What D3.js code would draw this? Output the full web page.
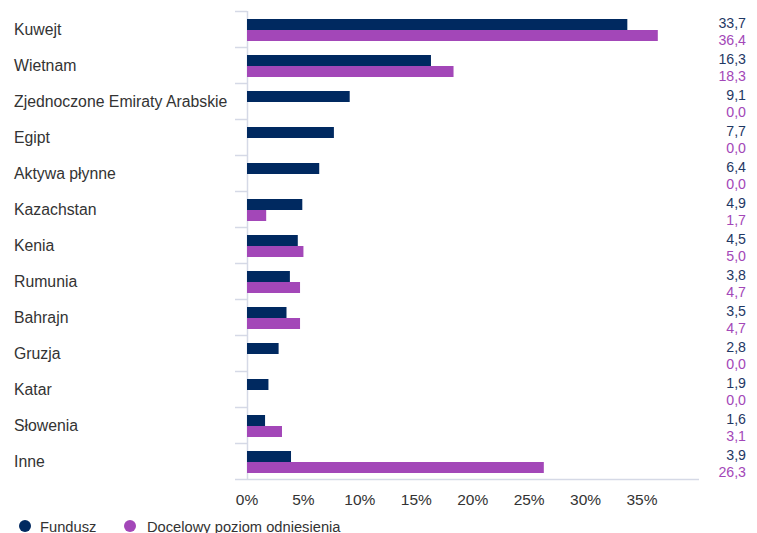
<!DOCTYPE html>
<html>
<head>
<meta charset="utf-8">
<script src="https://cdn.jsdelivr.net/npm/d3@7"></script>
<style>
  body { margin: 0; background: #fff; }
  svg { font-family: Arial, "Liberation Sans", sans-serif; }
</style>
</head>
<body>
<svg width="757" height="533"></svg>
<script>
const categories = ['Kuwejt', 'Wietnam', 'Zjednoczone Emiraty Arabskie', 'Egipt', 'Aktywa płynne',
  'Kazachstan', 'Kenia', 'Rumunia', 'Bahrajn', 'Gruzja', 'Katar', 'Słowenia', 'Inne'];
const fundusz = [33.7, 16.3, 9.1, 7.7, 6.4, 4.9, 4.5, 3.8, 3.5, 2.8, 1.9, 1.6, 3.9];
const benchmark = [36.4, 18.3, 0.0, 0.0, 0.0, 1.7, 5.0, 4.7, 4.7, 0.0, 0.0, 3.1, 26.3];
const xTicks = [0, 5, 10, 15, 20, 25, 30, 35];
const seriesNames = ['Fundusz', 'Docelowy poziom odniesienia'];

const navy = '#002960', purple = '#a347b8';
const svg = d3.select('svg');

const x = d3.scaleLinear().domain([0, 35]).range([247, 642]);
const y = d3.scaleBand().domain(categories).range([11, 479]);
const barH = 11;

// axis lines
const axisColor = '#d5d9e6';
svg.append('line').attr('x1', 247.5).attr('x2', 247.5).attr('y1', 11).attr('y2', 479)
  .attr('stroke', axisColor).attr('stroke-width', 1.5);
svg.append('line').attr('x1', 235).attr('x2', 699).attr('y1', 479.5).attr('y2', 479.5)
  .attr('stroke', axisColor).attr('stroke-width', 1.5);
svg.append('g').selectAll('line')
  .data(categories).enter().append('line')
  .attr('x1', 235).attr('x2', 247)
  .attr('y1', d => y(d) + 0.5).attr('y2', d => y(d) + 0.5)
  .attr('stroke', axisColor).attr('stroke-width', 1.5);

const rows = svg.append('g').selectAll('g')
  .data(categories).enter().append('g')
  .attr('transform', d => `translate(0,${y(d)})`);

rows.append('rect')
  .attr('x', x(0)).attr('y', 8).attr('height', barH)
  .attr('width', (d, i) => x(fundusz[i]) - x(0))
  .attr('fill', navy);
rows.append('rect')
  .attr('x', x(0)).attr('y', 8 + barH).attr('height', barH)
  .attr('width', (d, i) => x(benchmark[i]) - x(0))
  .attr('fill', purple);

rows.append('text')
  .attr('x', 14).attr('y', y.bandwidth() / 2 + 6)
  .attr('font-size', 15.8).attr('fill', '#333')
  .text(d => d);

const fmt = v => v.toFixed(1).replace('.', ',');
rows.append('text')
  .attr('x', 746).attr('y', 16.5).attr('text-anchor', 'end')
  .attr('font-size', 14.2).attr('fill', '#1f3864')
  .text((d, i) => fmt(fundusz[i]));
rows.append('text')
  .attr('x', 746).attr('y', 33.5).attr('text-anchor', 'end')
  .attr('font-size', 14.2).attr('fill', purple)
  .text((d, i) => fmt(benchmark[i]));

// x tick labels
svg.append('g').selectAll('text')
  .data(xTicks).enter().append('text')
  .attr('x', d => x(d)).attr('y', 505)
  .attr('text-anchor', 'middle').attr('font-size', 15.5).attr('fill', '#333')
  .text(d => d + '%');

// legend
const legend = svg.append('g').selectAll('g')
  .data(seriesNames).enter().append('g')
  .attr('transform', (d, i) => `translate(${i === 0 ? 25 : 130},526)`);
legend.append('circle').attr('r', 6).attr('fill', (d, i) => i === 0 ? navy : purple);
legend.append('text').attr('x', i => 0).attr('dx', (d, i) => i === 0 ? 15 : 17).attr('y', 5.5)
  .attr('font-size', 14.7).attr('fill', '#333').text(d => d);
</script>
</body>
</html>
